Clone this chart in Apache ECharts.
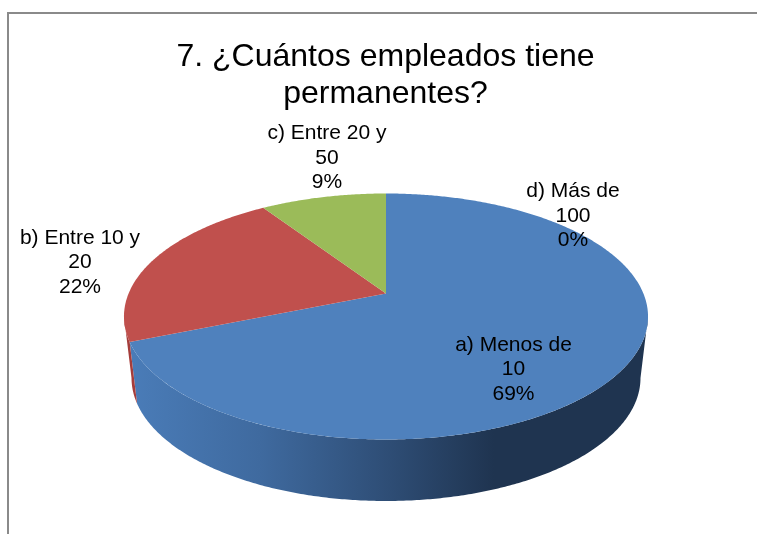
<!DOCTYPE html>
<html><head><meta charset="utf-8">
<style>html,body{margin:0;padding:0;background:#fff}#c{width:757px;height:534px}</style>
<script src="https://cdn.jsdelivr.net/npm/echarts@6/dist/echarts.min.js"></script>
</head><body><div id="c"></div>
<script>
const titleText = '7. ¿Cuántos empleados tiene\npermanentes?';
const categories = ['a) Menos de\n10', 'b) Entre 10 y\n20', 'c) Entre 20 y\n50', 'd) Más de\n100'];
const values = [68.8, 21.9, 9.3, 0];
const colors = ['#4f81bd', '#c0504d', '#9bbb59', '#8064a2'];

// Layout of the tilted pie (perspective projection of a circle)
const APEX = { x: 386, y: 293.5 }, R_TOP = 257.4, R_BOTTOM = 250, SQUASH = 118.7, K = 0.187, BOTTOM_APEX_Y = 355;
const FRONT_FROM = 100.8, FRONT_TO = 259.2;
const LABEL_CENTERS = [[513.5, 369.5], [80, 262.5], [327, 158], [573, 216]];
const FONT = '"Liberation Sans", Arial, sans-serif';
const total = values.reduce((a, b) => a + b, 0);

function project(deg, r, apexY) {
  const t = deg * Math.PI / 180, X = Math.sin(t), Y = -Math.cos(t), w = 1 - K * Y;
  return [APEX.x + r * X / w, apexY + SQUASH * Y / w];
}
function arc(a0, a1, r, apexY) {
  const pts = [], n = Math.max(2, Math.ceil(Math.abs(a1 - a0) * 2));
  for (let i = 0; i <= n; i++) pts.push(project(a0 + (a1 - a0) * i / n, r, apexY));
  return pts;
}
function wallFill(i) {
  if (i === 0) return new echarts.graphic.LinearGradient(130, 0, 650, 0, [
    { offset: 0, color: '#4a7cb8' }, { offset: 0.25, color: '#3f6a9f' }, { offset: 0.5, color: '#2e4d75' },
    { offset: 0.7, color: '#1f3450' }, { offset: 1, color: '#1f3450' }], true);
  return '#a53d3b';
}
function startOf(i) { let s = 0; for (let k = 0; k < i; k++) s += values[k]; return s / total * 360; }

function renderItem(params, api) {
  const i = params.dataIndex, v = api.value(0), a0 = startOf(i), a1 = a0 + v / total * 360;
  const children = [];
  if (v > 0) {
    const f0 = Math.max(a0, FRONT_FROM), f1 = Math.min(a1, FRONT_TO);
    if (f1 > f0) children.push({
      type: 'polygon', z2: 1, silent: true,
      shape: { points: arc(f0, f1, R_TOP, APEX.y).concat(arc(f1, f0, R_BOTTOM, BOTTOM_APEX_Y)) },
      style: { fill: wallFill(i) }
    });
    children.push({
      type: 'polygon', z2: 2,
      shape: { points: [[APEX.x, APEX.y]].concat(arc(a0, a1, R_TOP, APEX.y)) },
      style: { fill: colors[i] }
    });
  }
  children.push({
    type: 'text', z2: 3, x: LABEL_CENTERS[i][0], y: LABEL_CENTERS[i][1],
    style: {
      text: categories[i] + '\n' + Math.round(v / total * 100) + '%',
      font: '21px ' + FONT, fill: '#000', align: 'center', verticalAlign: 'middle', lineHeight: 24.5
    }
  });
  return { type: 'group', children };
}

const chart = echarts.init(document.getElementById('c'), null, { renderer: 'canvas' });
chart.setOption({
  animation: false,
  backgroundColor: '#fff',
  title: { text: titleText, left: 380.5, top: 33, textAlign: 'center',
    textStyle: { fontFamily: FONT, fontWeight: 'normal', fontSize: 32, color: '#000', lineHeight: 37.5 } },
  graphic: [{ type: 'polyline', silent: true,
    shape: { points: [[8, 540], [8, 13], [765, 13]] },
    style: { fill: null, stroke: '#8a8a8a', lineWidth: 2 } }],
  series: [{
    type: 'custom', coordinateSystem: 'none', renderItem,
    data: categories.map((name, i) => ({ name, value: [values[i]] }))
  }]
});
</script></body></html>
